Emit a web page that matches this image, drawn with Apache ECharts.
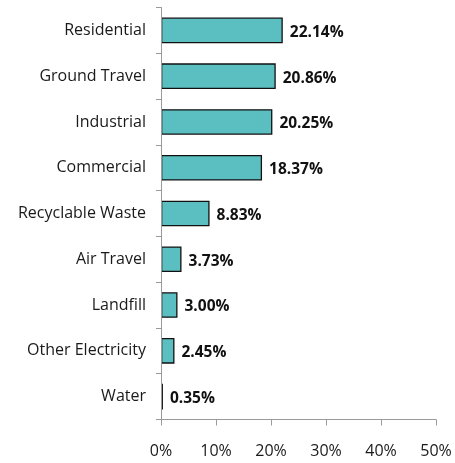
<!DOCTYPE html>
<html>
<head>
<meta charset="utf-8">
<script src="https://cdn.jsdelivr.net/npm/echarts@6/dist/echarts.min.js"></script>
<style>
  html, body { margin: 0; padding: 0; background: #fff; }
  #chart { width: 455px; height: 463px; }
</style>
</head>
<body>
<div id="chart"></div>
<script>
// Emission sources, listed top to bottom
const categories = [
  'Residential', 'Ground Travel', 'Industrial', 'Commercial',
  'Recyclable Waste', 'Air Travel', 'Landfill', 'Other Electricity', 'Water'
];
// Share of total emissions, in percent
const shares = [22.14, 20.86, 20.25, 18.37, 8.83, 3.73, 3.00, 2.45, 0.35];
// X axis tick values, in percent
const xTicks = [0, 10, 20, 30, 40, 50];

const chart = echarts.init(document.getElementById('chart'), null, { renderer: 'canvas' });
const font = '"Open Sans", "Liberation Sans", sans-serif';
const axisGray = '#9a9a9a';

chart.setOption({
  animation: false,
  grid: { left: 161, right: 19, top: 7.5, bottom: 43.5, containLabel: false },
  xAxis: {
    type: 'value',
    min: xTicks[0],
    max: xTicks[xTicks.length - 1],
    interval: xTicks[1] - xTicks[0],
    axisLine: { show: true, lineStyle: { color: axisGray, width: 1 } },
    axisTick: { show: true, length: 6, lineStyle: { color: axisGray } },
    splitLine: { show: false },
    axisLabel: {
      formatter: v => v + '%',
      color: '#1a1a1a', fontFamily: font, fontSize: 16, margin: 24
    }
  },
  yAxis: {
    type: 'category',
    data: categories,
    inverse: true,
    z: 5,
    axisLine: { show: true, lineStyle: { color: axisGray, width: 1 } },
    axisTick: { show: true, length: 5, lineStyle: { color: axisGray } },
    axisLabel: {
      color: '#1a1a1a', fontFamily: font, fontSize: 16, margin: 15,
      padding: [4, 0, 0, 0]
    }
  },
  series: [{
    type: 'bar',
    data: shares,
    barWidth: '56%',
    itemStyle: { color: '#5bbfc1', borderColor: '#111', borderWidth: 1.3 },
    label: {
      show: true,
      position: 'right',
      distance: 7,
      offset: [0, 2],
      formatter: p => p.value.toFixed(2) + '%',
      color: '#111', fontFamily: font, fontSize: 15.5, fontWeight: 'bold'
    }
  }]
});
</script>
</body>
</html>
